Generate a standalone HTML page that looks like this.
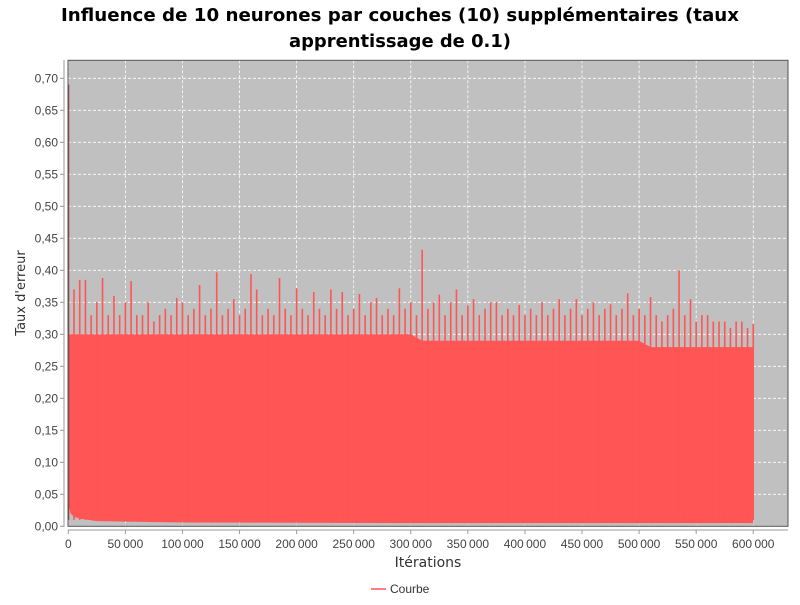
<!DOCTYPE html>
<html><head><meta charset="utf-8"><style>
body{margin:0;background:#fff;width:800px;height:600px;overflow:hidden;font-family:"Liberation Sans","DejaVu Sans",sans-serif}
</style></head><body>
<svg width="800" height="600" xmlns="http://www.w3.org/2000/svg">
<g font-family="DejaVu Sans, Liberation Sans, sans-serif" font-weight="bold" font-size="18" text-anchor="middle" fill="#000" textLength="680">
<text x="400" y="21" textLength="678" lengthAdjust="spacingAndGlyphs">Influence de 10 neurones par couches (10) supplémentaires (taux</text>
<text x="400" y="47" textLength="222" lengthAdjust="spacingAndGlyphs">apprentissage de 0.1)</text>
</g>
<rect x="68" y="60.3" width="720" height="466" fill="#c0c0c0"/>
<g id="grid"></g>
<g id="series"></g>
<rect x="68" y="60.3" width="720" height="466" fill="none" stroke="#555" stroke-width="1"/>
<g id="yaxis" font-size="12" fill="#444" text-anchor="end"></g>
<g id="xaxis" font-size="12" fill="#444" text-anchor="middle"></g>
<text transform="translate(25,293) rotate(-90)" text-anchor="middle" font-family="DejaVu Sans, sans-serif" font-size="13" fill="#333">Taux d'erreur</text>
<text x="428" y="567" text-anchor="middle" font-family="DejaVu Sans, sans-serif" font-size="14" fill="#333">Itérations</text>
<g>
<line x1="371" y1="589" x2="386" y2="589" stroke="#ff5555" stroke-width="1.5"/>
<text x="390" y="593" font-size="12" fill="#333">Courbe</text>
</g>
</svg>
<script>
const yTicks=[0,0.05,0.1,0.15,0.2,0.25,0.3,0.35,0.4,0.45,0.5,0.55,0.6,0.65,0.7];
const xTicks=[0,50000,100000,150000,200000,250000,300000,350000,400000,450000,500000,550000,600000];
const spikeIter=[];for(let i=0;i<=120;i++)spikeIter.push(i*5000);
const spikeTop=[0.69,0.37,0.385,0.385,0.33,0.35,0.388,0.33,0.36,0.33,0.35,0.383,0.33,0.33,0.35,0.32,0.33,0.34,0.33,0.357,0.35,0.33,0.34,0.377,0.33,0.34,0.397,0.33,0.34,0.355,0.33,0.34,0.394,0.37,0.33,0.34,0.33,0.388,0.34,0.33,0.372,0.34,0.33,0.366,0.34,0.33,0.37,0.34,0.366,0.33,0.34,0.363,0.33,0.35,0.357,0.33,0.34,0.33,0.372,0.34,0.35,0.33,0.432,0.34,0.35,0.362,0.33,0.35,0.37,0.33,0.345,0.355,0.33,0.34,0.35,0.35,0.33,0.34,0.33,0.346,0.33,0.34,0.33,0.35,0.33,0.34,0.355,0.33,0.34,0.355,0.33,0.34,0.35,0.33,0.34,0.347,0.33,0.34,0.364,0.33,0.34,0.33,0.358,0.33,0.32,0.33,0.34,0.40,0.33,0.355,0.32,0.33,0.33,0.32,0.32,0.32,0.31,0.32,0.32,0.31,0.316];
const baseIter=[0,1000,2000,10000,25000,100000,300000,310000,500000,510000,598000,600000];
const baseTop=[0.30,0.30,0.30,0.30,0.30,0.30,0.30,0.29,0.29,0.28,0.28,0.28];
const lowIter=[0,1000,2000,5000,10000,25000,100000,300000,600000];
const lowVal=[0.035,0.028,0.02,0.015,0.012,0.008,0.006,0.005,0.005];
const X=v=>68.3+v/50000*57.08, Y=v=>526.3-v*640;
const NS="http://www.w3.org/2000/svg";
function mk(t,a,p){const e=document.createElementNS(NS,t);for(const k in a)e.setAttribute(k,a[k]);p.appendChild(e);return e;}
const grid=document.getElementById('grid'),ya=document.getElementById('yaxis'),xa=document.getElementById('xaxis'),ser=document.getElementById('series');
yTicks.forEach(v=>{const l=mk('line',{x1:68,x2:788,y1:Y(v),y2:Y(v),stroke:'#fff','stroke-dasharray':'3,2','stroke-width':0.8},grid);

mk('line',{x1:60,x2:64,y1:Y(v),y2:Y(v),stroke:'#999'},ya);
const t=mk('text',{x:58,y:Y(v)+4},ya);t.textContent=v.toFixed(2).replace('.',',');
});
mk('line',{x1:64,x2:64,y1:60,y2:527,stroke:'#999'},ya);
xTicks.forEach(v=>{const l=mk('line',{x1:X(v),x2:X(v),y1:60.3,y2:526.3,stroke:'#fff','stroke-dasharray':'3,2','stroke-width':0.8},grid);

mk('line',{x1:X(v),x2:X(v),y1:530,y2:534,stroke:'#999'},xa);
const t=mk('text',{x:X(v),y:548},xa);t.textContent=v===0?'0':(Math.floor(v/1000)+'\u2009'+String(v%1000).padStart(3,'0'));
});
mk('line',{x1:68,x2:788,y1:530,y2:530,stroke:'#999'},xa);
let pts=baseIter.map((v,i)=>X(v)+','+Y(baseTop[i]));
for(let i=lowIter.length-1;i>=0;i--)pts.push(X(lowIter[i])+','+Y(lowVal[i]));
const poly=mk('polygon',{points:pts.join(' '),fill:'#ff5555'},ser);

spikeIter.forEach((v,i)=>{const l=mk('line',{x1:X(v)+(i===0?0.5:0),x2:X(v)+(i===0?0.5:0),y1:Y(0.01),y2:Y(spikeTop[i]),stroke:i===0?'#a04040':'#ff5555','stroke-width':i===0?1:1.6},ser);
});
</script>
</body></html>
